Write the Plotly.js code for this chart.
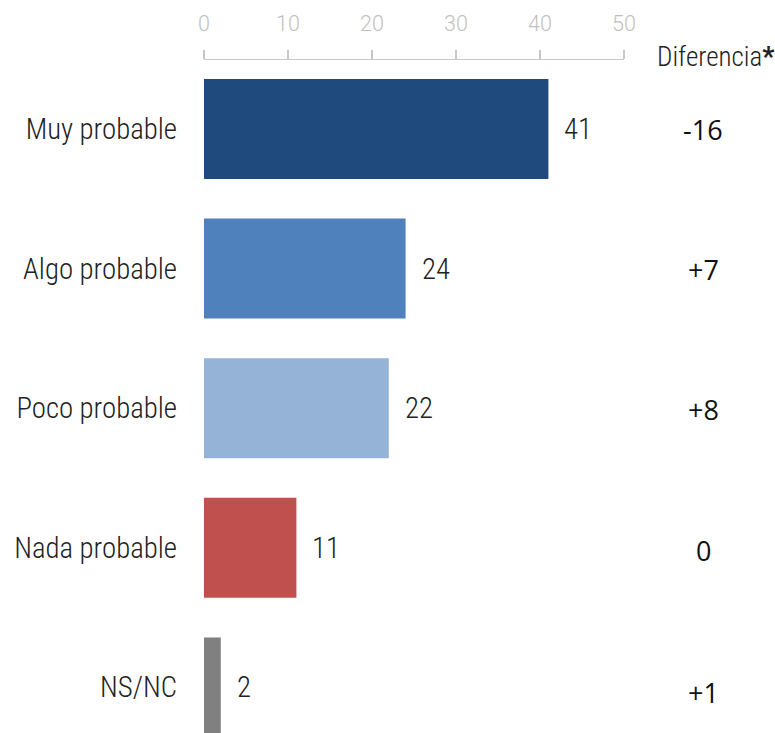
<!DOCTYPE html>
<html>
<head>
<meta charset="utf-8">
<script src="https://cdn.plot.ly/plotly-3.0.1.min.js"></script>
<style>html,body{margin:0;padding:0;background:#fff;}#chart{width:775px;height:733px;}</style>
</head>
<body>
<div id="chart"></div>
<script>
const categories = ["Muy probable", "Algo probable", "Poco probable", "Nada probable", "NS/NC"];
const values = [41, 24, 22, 11, 2];
const diferencia = ["-16", "+7", "+8", "0", "+1"];
const colors = ["#1F4A7E", "#4F81BD", "#95B3D7", "#C0504D", "#808080"];
const xTicks = [0, 10, 20, 30, 40, 50];

// pick a condensed font if one is installed
const cv = document.createElement("canvas").getContext("2d");
function w(font, txt) { cv.font = font; return cv.measureText(txt).width; }
function has(f) {
  const t = "Algo probable 0123";
  return w("40px '" + f + "', monospace", t) !== w("40px monospace", t) ||
         w("40px '" + f + "', serif", t) !== w("40px serif", t);
}
let catFont = "Roboto", catWeight = 300, catSize = 25, headSize = 24;
for (const f of ["Roboto Condensed", "Liberation Sans Narrow", "DejaVu Sans Condensed"]) {
  if (has(f)) {
    catFont = f; catWeight = (f === "Roboto Condensed") ? 300 : 400;
    const m = w("29px '" + f + "'", "Algo probable");
    catSize = Math.max(24, Math.min(30.5, 29 * 158 / m));
    headSize = 27;
    break;
  }
}

const pos = categories.map((c, i) => i);

const trace = {
  type: "bar",
  orientation: "h",
  x: values,
  y: pos,
  width: 0.716,
  marker: {color: colors},
  hoverinfo: "none",
  cliponaxis: false
};

const L = 204, R = 151, W = 775;
const px2paper = p => (p - L) / (W - L - R);

const annotations = [];
values.forEach((v, i) => {
  annotations.push({
    x: v, y: i, xref: "x", yref: "y",
    text: String(v), showarrow: false,
    xanchor: "left", yanchor: "middle", xshift: 14,
    font: {family: catFont, size: catSize, color: "#222", weight: catWeight}
  });
  annotations.push({
    x: px2paper(703), y: i, xref: "paper", yref: "y",
    text: diferencia[i], showarrow: false,
    xanchor: "center", yanchor: "middle", yshift: i === 4 ? -5 : (i === 3 ? -3 : -1),
    font: {family: "Open Sans", size: 27, color: "#111"}
  });
});
annotations.push({
  x: px2paper(777), y: 1, xref: "paper", yref: "paper",
  text: "Diferencia<b>*</b>", showarrow: false,
  xanchor: "right", yanchor: "middle", yshift: 3,
  font: {family: catFont, size: headSize, color: "#222", weight: catWeight}
});

const layout = {
  width: 775, height: 733,
  margin: {l: L, r: R, t: 60, b: 0, pad: 0},
  paper_bgcolor: "#fff", plot_bgcolor: "#fff",
  showlegend: false,
  xaxis: {
    side: "top", range: [0, 50], tickvals: xTicks, ticktext: xTicks.map(String),
    showgrid: false, zeroline: false, showline: true, linecolor: "#c8c8c8", linewidth: 1.5,
    ticks: "outside", ticklen: 9, tickcolor: "#c8c8c8", tickwidth: 1.5,
    ticklabelstandoff: 10,
    tickfont: {family: "Roboto", size: 21.5, color: "#bfbfbf", weight: 300},
    fixedrange: true
  },
  yaxis: {
    range: [4.327, -0.494], tickvals: pos, ticktext: categories,
    showgrid: false, zeroline: false, showline: false, ticks: "",
    ticklabelstandoff: 26,
    tickfont: {family: catFont, size: catSize, color: "#222", weight: catWeight},
    fixedrange: true
  },
  annotations: annotations
};

Plotly.newPlot("chart", [trace], layout, {staticPlot: true});
</script>
</body>
</html>
